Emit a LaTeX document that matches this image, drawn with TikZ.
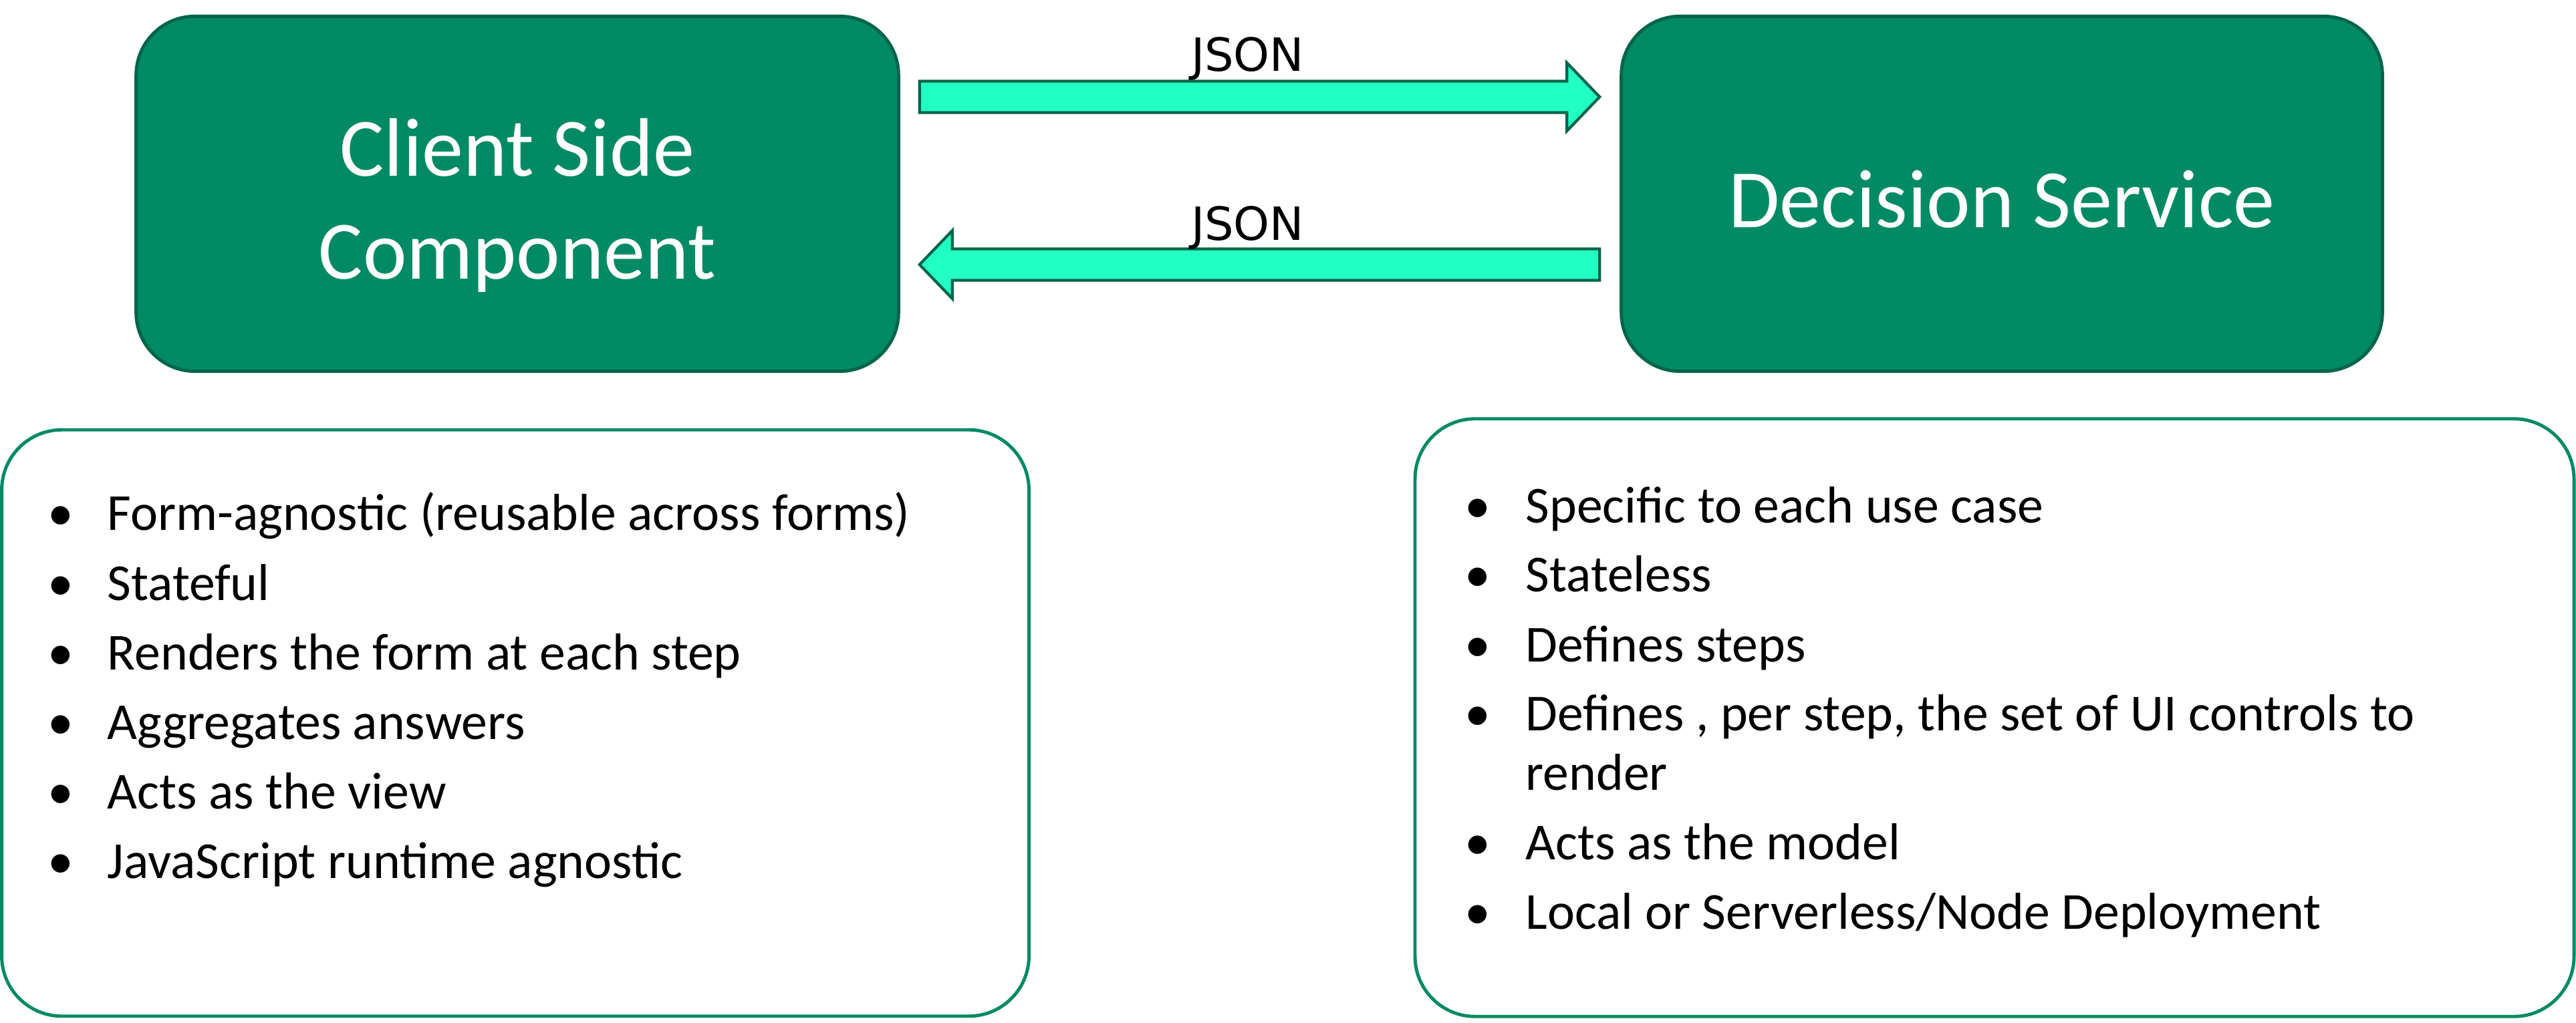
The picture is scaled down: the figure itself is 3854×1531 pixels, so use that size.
\documentclass[tikz,border=0pt]{standalone}
\usepackage{fontspec}
\setmainfont{Carlito}
\newfontfamily\jsonfont{DejaVu Sans}
\usetikzlibrary{calc}

\definecolor{boxgreen}{HTML}{018A63}
\definecolor{edgegreen}{HTML}{00654A}
\definecolor{arrowfill}{HTML}{22FFC2}

% block arrow from #1 (tail) to #2 (tip)
\newcommand{\jsonarrow}[2]{%
  \coordinate (hb) at ($(#2)!0.49cm!(#1)$);
  \draw[blockarrow] ($(#1)!0.235cm!90:(#2)$) -- ($(hb)!0.235cm!90:(#2)$)
    -- ($(hb)!0.51cm!90:(#2)$) -- (#2) -- ($(hb)!0.51cm!-90:(#2)$)
    -- ($(hb)!0.235cm!-90:(#2)$) -- ($(#1)!0.235cm!-90:(#2)$) -- cycle;
}

\begin{document}
\begin{tikzpicture}[x=0.01cm, y=-0.01cm,
    compbox/.style={draw=edgegreen, fill=boxgreen, line width=1.4pt, rounded corners=0.88cm,
      text=white, align=center, text depth=0cm, font=\fontsize{35.3}{43.8}\selectfont},
    notebox/.style={draw=boxgreen, fill=white, line width=1.4pt, rounded corners=0.9cm},
    item/.style={anchor=base west, inner sep=0pt, font=\fontsize{22.1}{26}\selectfont},
    dot/.style={anchor=base, inner sep=0pt, font=\fontsize{22.1}{26}\selectfont},
    blockarrow/.style={draw=edgegreen, fill=arrowfill, line width=1.2pt},
    jsonlabel/.style={anchor=base, inner sep=0pt, font=\jsonfont\fontsize{19.5}{23}\selectfont}]
    \useasboundingbox (0,0) rectangle (3854,1531);

    % Components
    \node[compbox, minimum width=11.4cm, minimum height=5.31cm, text height=2.54cm] (client) at (774,290) {Client Side\\Component};
    \node[compbox, minimum width=11.38cm, minimum height=5.31cm, text height=1.0cm] (decision) at (2995,290) {Decision Service};

    % Request and response
    \coordinate (req-tail) at ($(client.east)+(29,-145)$);
    \coordinate (req-tip) at ($(decision.west)+(-30,-145)$);
    \coordinate (res-tail) at ($(decision.west)+(-30,106)$);
    \coordinate (res-tip) at ($(client.east)+(29,106)$);
    \jsonarrow{req-tail}{req-tip}
    \jsonarrow{res-tail}{res-tip}
    \node[jsonlabel] (req-label) at ($(req-tail)!0.5!(req-tip)+(-18,-38)$) {JSON};
    \node[jsonlabel] (res-label) at ($(res-tail)!0.5!(res-tip)+(-18,-36)$) {JSON};

    % Notes on the client side
    \node[notebox, minimum width=15.36cm, minimum height=8.77cm] (clientnotes) at (771,1082) {};
    \foreach \y/\txt in {794/{Form-agnostic (reusable across forms)}, 898/Stateful,
        1002/{Renders the form at each step}, 1106/{Aggregates answers},
        1210/{Acts as the view}, 1314/{JavaScript runtime agnostic}} {
      \node[dot] at (91,\y) {\textbullet};
      \node[item] at (160,\y) {\txt};
    }

    % Notes on the decision service
    \node[notebox, minimum width=17.33cm, minimum height=8.94cm] (decisionnotes) at (2984,1074) {};
    \foreach \y/\txt/\b in {782/{Specific to each use case}/1, 886/Stateless/1,
        990/{Defines steps}/1, 1093/{Defines , per step, the set of UI controls to}/1,
        1182/render/0, 1286/{Acts as the model}/1,
        1390/{Local or Serverless/Node Deployment}/1} {
      \ifnum\b=1 \node[dot] at (2211,\y) {\textbullet}; \fi
      \node[item] at (2282,\y) {\txt};
    }
\end{tikzpicture}
\end{document}
